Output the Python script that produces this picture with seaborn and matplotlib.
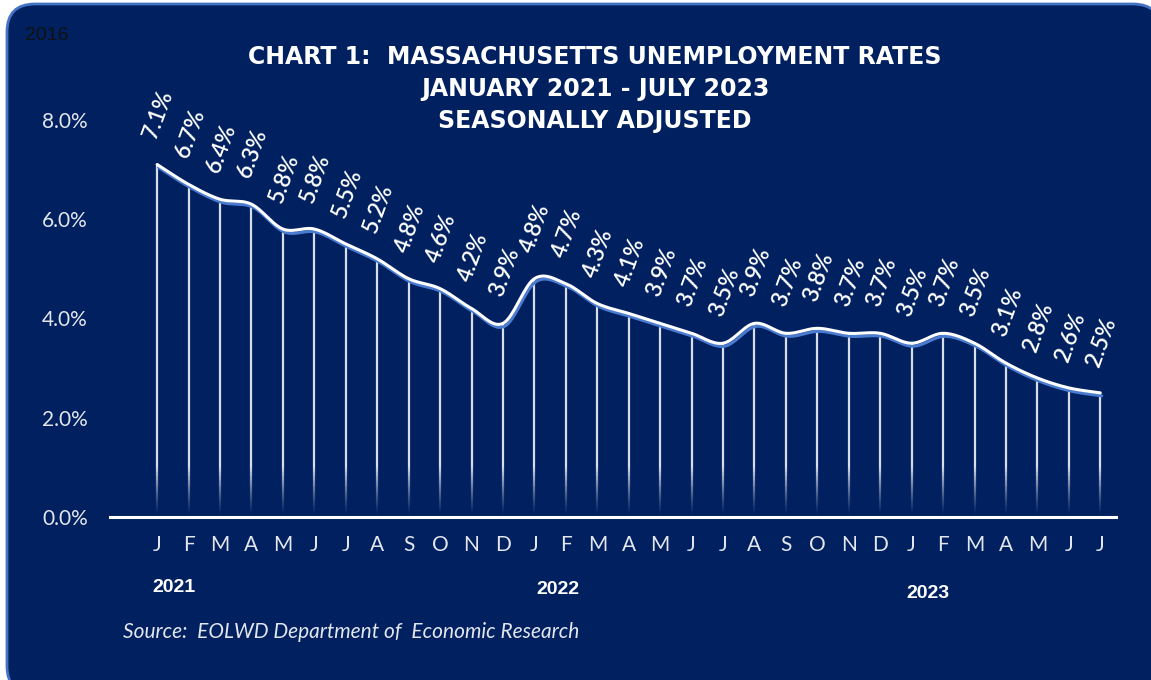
import numpy as np
import pandas as pd
import matplotlib
matplotlib.use("Agg")
import matplotlib.pyplot as plt
import matplotlib.transforms as mtransforms
from matplotlib.patches import FancyBboxPatch
import seaborn as sns

# ---------------- data ----------------
months = ["J", "F", "M", "A", "M", "J", "J", "A", "S", "O", "N", "D",
          "J", "F", "M", "A", "M", "J", "J", "A", "S", "O", "N", "D",
          "J", "F", "M", "A", "M", "J", "J"]
rates = [7.1, 6.7, 6.4, 6.3, 5.8, 5.8, 5.5, 5.2, 4.8, 4.6, 4.2, 3.9,
         4.8, 4.7, 4.3, 4.1, 3.9, 3.7, 3.5, 3.9, 3.7, 3.8, 3.7, 3.7,
         3.5, 3.7, 3.5, 3.1, 2.8, 2.6, 2.5]
years = ["2021", "2022", "2023"]
yticks = [0, 2, 4, 6, 8]
ytick_labels = ["0.0%", "2.0%", "4.0%", "6.0%", "8.0%"]
title_lines = ["CHART 1:  MASSACHUSETTS UNEMPLOYMENT RATES",
               "JANUARY 2021 - JULY 2023",
               "SEASONALLY ADJUSTED"]
source = "Source:  EOLWD Department of  Economic Research"
corner_text = "2016"

NAVY = "#002060"
BORDER = "#4472C4"
SHADOW = "#4A7BD0"
LIGHT = "#E3E6EC"


def smooth(xs, ys, steps=20):
    """Catmull-Rom rendering of a line (like Excel's smoothed line)."""
    xs = np.asarray(xs, float)
    ys = np.asarray(ys, float)
    px = np.concatenate([[xs[0]], xs, [xs[-1]]])
    py = np.concatenate([[ys[0]], ys, [ys[-1]]])
    ox, oy = [], []
    for i in range(1, len(px) - 2):
        t = np.linspace(0, 1, steps, endpoint=False)
        h00 = 2 * t**3 - 3 * t**2 + 1
        h10 = t**3 - 2 * t**2 + t
        h01 = -2 * t**3 + 3 * t**2
        h11 = t**3 - t**2
        mx0 = (px[i + 1] - px[i - 1]) / 2
        mx1 = (px[i + 2] - px[i]) / 2
        my0 = (py[i + 1] - py[i - 1]) / 2
        my1 = (py[i + 2] - py[i]) / 2
        ox.append(h00 * px[i] + h10 * mx0 + h01 * px[i + 1] + h11 * mx1)
        oy.append(h00 * py[i] + h10 * my0 + h01 * py[i + 1] + h11 * my1)
    ox.append([xs[-1]])
    oy.append([ys[-1]])
    return np.concatenate(ox), np.concatenate(oy)


sns.set_theme(style="white")
plt.rcParams["font.family"] = ["Lato", "DejaVu Sans"]

W, H = 1151, 680
fig = plt.figure(figsize=(W / 100, H / 100), dpi=100)
fig.patch.set_facecolor("white")

# rounded navy panel
panel = FancyBboxPatch((7, -14), 1154, 690,
                       boxstyle="round,pad=0,rounding_size=28",
                       facecolor=NAVY, edgecolor=BORDER, linewidth=2.0,
                       transform=mtransforms.IdentityTransform(), zorder=0)
fig.add_artist(panel)

ax = fig.add_axes([110 / W, (H - 517) / H, 1006 / W, 446.85 / H])
ax.set_facecolor("none")

x = np.arange(len(rates))
df = pd.DataFrame({"month": x, "rate": rates})

# drop lines (fading towards the axis)
ax.vlines(df["month"], 1.0, df["rate"], color="white", lw=1.6, alpha=0.85,
          zorder=2, capstyle="butt")
n_fade = 20
for k in range(n_fade):
    ax.vlines(df["month"], k * 1.0 / n_fade, (k + 1) * 1.0 / n_fade, color="white",
              lw=1.6, alpha=0.85 * (k / n_fade) ** 1.3, zorder=2, capstyle="butt")

sx, sy = smooth(df["month"], df["rate"])
sm = pd.DataFrame({"x": sx, "y": sy})
shadow_tr = mtransforms.offset_copy(ax.transData, fig=fig, x=1.5, y=-3, units="dots")
sns.lineplot(data=sm, x="x", y="y", ax=ax, color=SHADOW, lw=2.2, sort=False,
             estimator=None, transform=shadow_tr, zorder=3)
sns.lineplot(data=sm, x="x", y="y", ax=ax, color="white", lw=2.2, sort=False,
             estimator=None, zorder=4)

for xi, v in zip(df["month"], df["rate"]):
    ax.annotate(f"{v:.1f}%", (xi, v), xytext=(1, 17), textcoords="offset points",
                rotation=70, ha="center", va="bottom", color="white",
                fontsize=16.5, fontweight="semibold", zorder=5)

ax.set_xlim(-1.5, 30.5)
ax.set_ylim(0, 9)
ax.set_xticks(x)
ax.set_xticklabels(months, color=LIGHT, fontsize=15)
ax.set_yticks(yticks)
ax.set_yticklabels(ytick_labels, color=LIGHT, fontsize=15)
ax.tick_params(axis="x", length=0, pad=13)
ax.tick_params(axis="y", length=0, pad=16)
ax.set_xlabel("")
ax.set_ylabel("")
for s in ["left", "right", "top"]:
    ax.spines[s].set_visible(False)
ax.spines["bottom"].set_color("white")
ax.spines["bottom"].set_linewidth(2.2)
ax.grid(False)

# year labels
for yr, px_, py_ in zip(years, [174, 558, 928], [587, 589, 593]):
    fig.text(px_ / W, 1 - py_ / H, yr, ha="center", va="center", color="white",
             fontsize=14, fontweight="bold", family=["Liberation Sans"])

# titles
for line, py_ in zip(title_lines, [57, 89, 121]):
    fig.text(595 / W, 1 - py_ / H, line, ha="center", va="center", color="white",
             fontsize=17, fontweight="bold", family=["DejaVu Sans"])

fig.text(123 / W, 1 - 632 / H, source, ha="left", va="center", color=LIGHT,
         fontsize=15, style="italic")
fig.text(25 / W, 1 - 35 / H, corner_text, ha="left", va="center", color="#111111",
         fontsize=14, family=["Liberation Sans"])

fig.savefig("out.png", dpi=100, facecolor=fig.get_facecolor())
